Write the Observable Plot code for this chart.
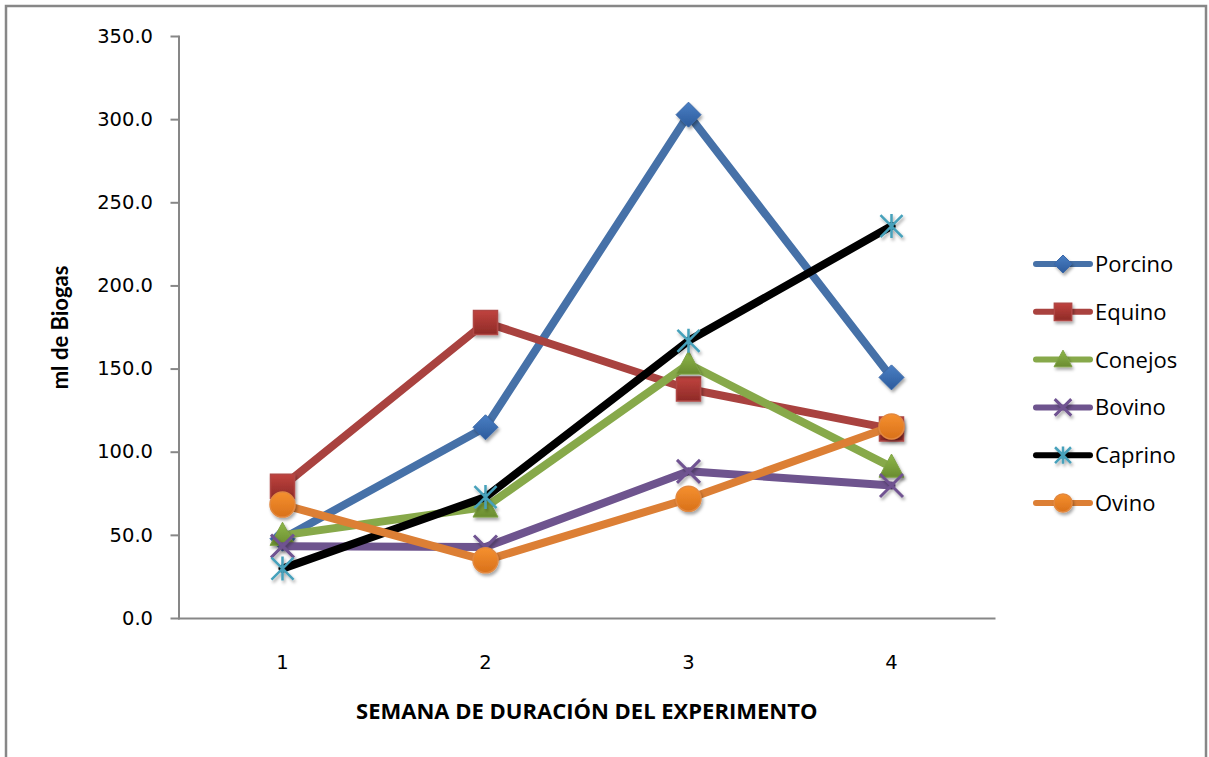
<!DOCTYPE html>
<html>
<head>
<meta charset="utf-8">
<script src="https://cdn.jsdelivr.net/npm/d3@7"></script>
<script src="https://cdn.jsdelivr.net/npm/@observablehq/plot@0.6"></script>
<style>
  html, body { margin: 0; padding: 0; background: #fff; }
  #chart { position: relative; width: 1209px; height: 757px; overflow: hidden; }
</style>
</head>
<body>
<svg width="0" height="0" style="position:absolute">
  <defs>
    <linearGradient id="gBlue" x1="0" y1="0" x2="0" y2="1">
      <stop offset="0" stop-color="#4a7fc4"/><stop offset="1" stop-color="#2c5b9c"/>
    </linearGradient>
    <linearGradient id="gRed" x1="0" y1="0" x2="0" y2="1">
      <stop offset="0" stop-color="#c0433e"/><stop offset="1" stop-color="#8e2a27"/>
    </linearGradient>
    <linearGradient id="gGreen" x1="0" y1="0" x2="0" y2="1">
      <stop offset="0" stop-color="#8fb84a"/><stop offset="1" stop-color="#6a8c30"/>
    </linearGradient>
    <linearGradient id="gOrange" x1="0" y1="0" x2="0" y2="1">
      <stop offset="0" stop-color="#f5902f"/><stop offset="1" stop-color="#d9711a"/>
    </linearGradient>
    <filter id="shadow" x="-50%" y="-50%" width="200%" height="200%">
      <feDropShadow dx="1.5" dy="2.5" stdDeviation="1.6" flood-color="#000" flood-opacity="0.35"/>
    </filter>
  </defs>
</svg>
<div id="chart"></div>
<script>
// Semanas del experimento y producción de biogás (ml) por tipo de estiércol
const semanas = [1, 2, 3, 4];
const series = ["Porcino", "Equino", "Conejos", "Bovino", "Caprino", "Ovino"];
const porcino = [48, 115, 303, 145];
const equino  = [79.5, 178, 138, 114];
const conejos = [50, 67, 153, 91];
const bovino  = [43.5, 43, 88.5, 80];
const caprino = [30, 73, 167, 236];
const ovino   = [68.5, 35, 72, 115.5];
const yTicks  = [0, 50, 100, 150, 200, 250, 300, 350];
const xTitle  = "SEMANA DE DURACIÓN DEL EXPERIMENTO";
const yTitle  = "ml de Biogas";

const valores = [porcino, equino, conejos, bovino, caprino, ovino];

// Marker shapes; r is the half-width of the glyph
const shape = (fn) => ({ draw(ctx, size) { fn(ctx, Math.sqrt(size / Math.PI)); } });
const diamond = shape((c, r) => { c.moveTo(0, -r); c.lineTo(r, 0); c.lineTo(0, r); c.lineTo(-r, 0); c.closePath(); });
const square = shape((c, r) => { c.rect(-r, -r, 2 * r, 2 * r); });
const triangle = shape((c, r) => { c.moveTo(0, -1.05 * r); c.lineTo(r, 0.8 * r); c.lineTo(-r, 0.8 * r); c.closePath(); });
const circle = shape((c, r) => { c.moveTo(r, 0); c.arc(0, 0, r, 0, 2 * Math.PI); c.closePath(); });
const cross = shape((c, r) => { c.moveTo(-r, -r); c.lineTo(r, r); c.moveTo(r, -r); c.lineTo(-r, r); });
const star = shape((c, r) => {
  const d = r * 0.92;
  c.moveTo(-d, -d); c.lineTo(d, d); c.moveTo(d, -d); c.lineTo(-d, d);
  c.moveTo(0, -r); c.lineTo(0, r);
});

const estilos = {
  Porcino: { line: "#4671a8", symbol: diamond, r: 12.5, fill: "url(#gBlue)", stroke: "#3a68a8", sw: 1 },
  Equino:  { line: "#a9423f", symbol: square,  r: 12,   fill: "url(#gRed)", stroke: "#b04744", sw: 1.5 },
  Conejos: { line: "#87a94a", symbol: triangle, r: 12.5, fill: "url(#gGreen)", stroke: "#7fa245", sw: 1 },
  Bovino:  { line: "#6e548e", symbol: cross,   r: 11.5, fill: "none", stroke: "#6f5391", sw: 3 },
  Caprino: { line: "#000000", symbol: star,    r: 12,   fill: "none", stroke: "#46a1bb", sw: 2.5 },
  Ovino:   { line: "#dc7f35", symbol: circle,  r: 12.5, fill: "url(#gOrange)", stroke: "#e2883f", sw: 1.5 }
};

const filas = series.flatMap((s, i) => semanas.map((w, j) => ({ serie: s, semana: w, ml: valores[i][j] })));

const tickFont = "'DejaVu Sans', sans-serif";

const marks = [
  Plot.frame({ anchor: "left", stroke: "#878787", strokeWidth: 2 }),
  Plot.frame({ anchor: "bottom", stroke: "#878787", strokeWidth: 2 }),
  Plot.axisY({
    ticks: yTicks, tickFormat: d3.format(".1f"), tickSize: 8, tickPadding: 18,
    stroke: "#878787", strokeWidth: 2, label: null, fontSize: 19.5, fontFamily: tickFont
  }),
  Plot.axisX({ tickSize: 0, tickPadding: 37, label: null, fontSize: 19.5, fontFamily: tickFont }),
  Plot.text([xTitle], {
    frameAnchor: "bottom", lineAnchor: "middle", textAnchor: "middle", dy: 93,
    fontSize: 22, fontWeight: "bold"
  }),
  Plot.text([yTitle], {
    frameAnchor: "left", lineAnchor: "middle", textAnchor: "middle", dx: -118.5, rotate: -90,
    fontSize: 22, fontWeight: "bold", fontFamily: "Lato, sans-serif"
  })
];

// Each series is drawn as its line followed by its markers, in series order
for (const s of series) {
  const e = estilos[s];
  const datos = filas.filter((d) => d.serie === s);
  marks.push(
    Plot.line(datos, { x: "semana", y: "ml", stroke: e.line, strokeWidth: 8, strokeLinejoin: "round", strokeLinecap: "round" }),
    Plot.dot(datos, { x: "semana", y: "ml", symbol: e.symbol, r: e.r, fill: e.fill, stroke: e.stroke, strokeWidth: e.sw })
  );
}

const chart = Plot.plot({
  width: 1209,
  height: 757,
  marginLeft: 178.5,
  marginRight: 215,
  marginTop: 36,
  marginBottom: 139,
  style: { fontFamily: "'Open Sans', sans-serif", color: "#000", background: "#fff", overflow: "visible" },
  x: { type: "point", domain: semanas, padding: 0.5 },
  y: { domain: [0, 350] },
  marks
});

const svg = d3.select(chart);
svg.selectAll("g[aria-label=dot] path").attr("filter", "url(#shadow)");

// Outer chart border
svg.insert("rect", ":first-child")
  .attr("x", 6).attr("y", 6).attr("width", 1200).attr("height", 800)
  .attr("fill", "#fff").attr("stroke", "#878787").attr("stroke-width", 2.5);

// Legend on the right
const leyenda = svg.append("g").attr("transform", "translate(1036,264)");
series.forEach((s, i) => {
  const e = estilos[s];
  const g = leyenda.append("g").attr("transform", `translate(0,${i * 47.8})`);
  g.append("line").attr("x1", 0).attr("x2", 54).attr("stroke", e.line)
    .attr("stroke-width", 6).attr("stroke-linecap", "round");
  g.append("path").attr("transform", "translate(27,0)")
    .attr("d", d3.symbol(e.symbol, Math.PI * Math.pow(e.r * 0.72, 2))())
    .attr("fill", e.fill).attr("stroke", e.stroke).attr("stroke-width", e.sw)
    .attr("filter", "url(#shadow)");
  g.append("text").attr("x", 59).attr("dy", "0.36em").attr("text-anchor", "start")
    .attr("font-size", 22).attr("fill", "#000").text(s);
});

document.getElementById("chart").append(chart);
</script>
</body>
</html>
